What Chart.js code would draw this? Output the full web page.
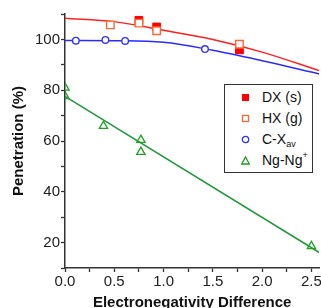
<!DOCTYPE html>
<html>
<head>
<meta charset="utf-8">
<script src="https://cdn.jsdelivr.net/npm/chart.js@4"></script>
<style>
  html, body { margin: 0; padding: 0; background: #fff; overflow: hidden; }
  #wrap { position: relative; width: 326px; height: 316px; }
  #legend {
    position: absolute; left: 224px; top: 84px; width: 87px; height: 87px;
    border: 1.5px solid #333; background: #fff;
    font-family: "Liberation Sans", Arial, sans-serif; font-size: 14px; color: #111;
  }
  .row { position: absolute; left: 0; height: 20px; line-height: 20px; white-space: nowrap; }
  .row svg { position: absolute; left: 16px; top: 6px; }
  .row span { position: absolute; left: 37px; }
  sub { font-size: 9px; vertical-align: -3px; line-height: 0; }
  sup { font-size: 9px; vertical-align: 7px; line-height: 0; }
</style>
</head>
<body>
<div id="wrap">
  <canvas id="grafico" width="326" height="316"></canvas>
  <div id="legend">
    <div class="row" style="top:2px"><svg width="9" height="9"><rect x="1" y="1" width="7" height="7" fill="#ff0000"/></svg><span>DX (s)</span></div>
    <div class="row" style="top:23px"><svg width="9" height="9"><rect x="1.5" y="1.5" width="6" height="6" fill="none" stroke="#ff6633" stroke-width="1.3"/></svg><span>HX (g)</span></div>
    <div class="row" style="top:44px"><svg width="9" height="9"><circle cx="4.5" cy="4.5" r="3.2" fill="none" stroke="#3333ff" stroke-width="1.3"/></svg><span>C-X<sub>av</sub></span></div>
    <div class="row" style="top:65px"><svg width="9" height="9"><polygon points="4.5,1 8.3,8 0.7,8" fill="none" stroke="#229922" stroke-width="1.3"/></svg><span>Ng-Ng<sup>+</sup></span></div>
  </div>
</div>
<script>
// valores
const dxX = [0.75, 0.93, 1.77];
const dxY = [107.5, 104.9, 95.9];

const hxX = [0.46, 0.75, 0.93, 1.77];
const hxY = [105.7, 106.4, 103.4, 98.1];

const cxX = [0.11, 0.41, 0.61, 1.42];
const cxY = [99.5, 99.8, 99.4, 96.2];

const ngX = [0.0, 0.0, 0.39, 0.77, 0.77, 2.50];
const ngY = [81.0, 77.6, 65.9, 60.4, 55.7, 18.6];

// curvas de ajuste
const fitRedX = [0, 0.5, 1.0, 1.5, 2.0, 2.58];
const fitRedY = [108.3, 107.0, 103.6, 100.0, 95.0, 87.7];
const fitBlueX = [0, 0.5, 1.0, 1.5, 2.0, 2.58];
const fitBlueY = [99.6, 99.5, 98.9, 95.7, 91.6, 86.4];
const fitGreenX = [0, 2.58];
const fitGreenY = [77.6, 16.1];

const xTicks = [0, 0.25, 0.5, 0.75, 1.0, 1.25, 1.5, 1.75, 2.0, 2.25, 2.5];
const yTicks = [10, 20, 30, 40, 50, 60, 70, 80, 90, 100, 110];

function pontos(xs, ys) {
    return xs.map((x, i) => ({ x: x, y: ys[i] }));
}

const fonte = '"Liberation Sans", Arial, sans-serif';

const ctx = document.getElementById('grafico').getContext('2d');

new Chart(ctx, {
    type: 'scatter',
    data: {
        datasets: [
            { label: 'fitRed', data: pontos(fitRedX, fitRedY), showLine: true, pointRadius: 0, borderColor: '#ff2020', borderWidth: 1.5, cubicInterpolationMode: 'monotone', order: 5 },
            { label: 'fitBlue', data: pontos(fitBlueX, fitBlueY), showLine: true, pointRadius: 0, borderColor: '#2b2bff', borderWidth: 1.5, cubicInterpolationMode: 'monotone', order: 6 },
            { label: 'fitGreen', data: pontos(fitGreenX, fitGreenY), showLine: true, pointRadius: 0, borderColor: '#1f9a3a', borderWidth: 1.5, order: 7 },
            { label: 'DX (s)', data: pontos(dxX, dxY), pointStyle: 'rect', pointRadius: 5.5, backgroundColor: '#ff0000', borderColor: '#ff0000', borderWidth: 1, order: 2 },
            { label: 'HX (g)', data: pontos(hxX, hxY), pointStyle: 'rect', pointRadius: 5.3, backgroundColor: '#ffffff', borderColor: '#ff6633', borderWidth: 1.4, order: 1 },
            { label: 'C-Xav', data: pontos(cxX, cxY), pointStyle: 'circle', pointRadius: 3.3, backgroundColor: '#ffffff', borderColor: '#3333ff', borderWidth: 1.4, order: 3 },
            { label: 'Ng-Ng+', data: pontos(ngX, ngY), pointStyle: 'triangle', pointRadius: 4.8, backgroundColor: 'rgba(255,255,255,0)', borderColor: '#22a022', borderWidth: 1.3, order: 4 }
        ]
    },
    options: {
        animation: false,
        responsive: false,
        layout: { padding: { top: 14, right: 6, left: 0, bottom: 4 } },
        plugins: {
            legend: { display: false },
            tooltip: { enabled: false }
        },
        scales: {
            x: {
                type: 'linear',
                min: 0,
                max: 2.58,
                afterBuildTicks: (s) => { s.ticks = xTicks.map(v => ({ value: v })); },
                afterFit: (s) => { s.height = 44; },
                border: { color: '#333', width: 1.5 },
                grid: { drawOnChartArea: false, tickLength: 4, tickWidth: 1.3, tickColor: '#333' },
                ticks: {
                    padding: 1,
                    color: '#222',
                    font: { family: fonte, size: 15 },
                    maxRotation: 0,
                    callback: (v) => (Math.abs(v * 2 - Math.round(v * 2)) < 1e-6 ? v.toFixed(1) : '')
                },
                title: {
                    display: true,
                    text: 'Electronegativity Difference',
                    color: '#111',
                    font: { family: fonte, size: 15, weight: 'bold' },
                    padding: 0
                }
            },
            y: {
                min: 10,
                max: 110,
                afterBuildTicks: (s) => { s.ticks = yTicks.map(v => ({ value: v })); },
                afterFit: (s) => { s.width = 65; },
                border: { color: '#333', width: 1.5 },
                grid: { drawOnChartArea: false, tickLength: 4, tickWidth: 1.3, tickColor: '#333' },
                ticks: {
                    padding: 1,
                    color: '#222',
                    font: { family: fonte, size: 15 },
                    callback: (v) => (v % 20 === 0 ? String(v) : '')
                },
                title: {
                    display: true,
                    text: 'Penetration (%)',
                    color: '#111',
                    font: { family: fonte, size: 15, weight: 'bold' },
                    padding: { top: 10, bottom: 0 }
                }
            }
        }
    }
});
</script>
</body>
</html>
